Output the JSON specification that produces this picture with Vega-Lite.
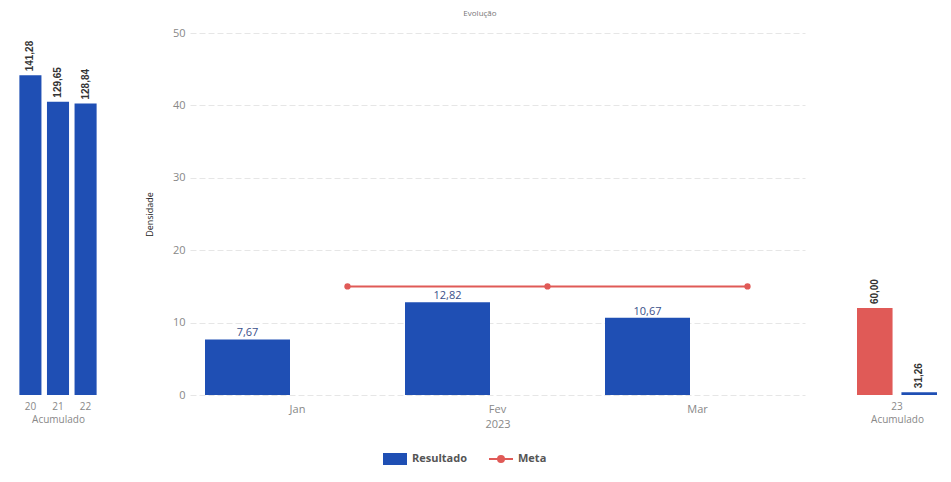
{
  "$schema": "https://vega.github.io/schema/vega-lite/v6.json",
  "background": "white",
  "padding": {"left": 18, "top": 10, "right": 0, "bottom": 5},
  "title": {"text": "Evolução", "fontSize": 8, "fontWeight": "normal", "color": "#777", "font": "Open Sans", "anchor": "middle", "offset": 9},
  "datasets": {
    "historico": [
      {"ano": "20", "valor": 141.28},
      {"ano": "21", "valor": 129.65},
      {"ano": "22", "valor": 128.84}
    ],
    "mensal": [
      {"mes": "Jan", "serie": "Resultado", "valor": 7.67},
      {"mes": "Fev", "serie": "Resultado", "valor": 12.82},
      {"mes": "Mar", "serie": "Resultado", "valor": 10.67}
    ],
    "meta": [
      {"mes": "Jan", "serie": "Meta", "valor": 15},
      {"mes": "Fev", "serie": "Meta", "valor": 15},
      {"mes": "Mar", "serie": "Meta", "valor": 15}
    ],
    "acumulado": [
      {"ano": "23", "serie": "Meta", "valor": 60.0},
      {"ano": "23", "serie": "Resultado", "valor": 31.26}
    ]
  },
  "spacing": 47,
  "hconcat": [
    {
      "spacing": 47,
      "hconcat": [
        {
          "width": 80,
          "height": 362,
          "data": {"name": "historico"},
          "encoding": {
            "x": {"field": "ano", "type": "nominal", "title": "Acumulado",
                  "scale": {"paddingInner": 0.2, "paddingOuter": 0.05},
                  "axis": {"labelAngle": 0, "labelFontSize": 10, "titleFontSize": 10, "labelPadding": 6, "titlePadding": 3}},
            "y": {"field": "valor", "type": "quantitative", "scale": {"domain": [0, 160]}, "axis": null}
          },
          "layer": [
            {"mark": {"type": "bar", "color": "#1f4fb4"}},
            {"mark": {"type": "text", "angle": 270, "align": "left", "baseline": "middle", "dx": 4, "fontSize": 10, "fontWeight": "bold", "color": "#333", "font": "Liberation Sans"},
             "encoding": {"text": {"field": "valor", "type": "quantitative", "format": ".2f"}}}
          ]
        },
        {
          "width": 615,
          "height": 362,
          "encoding": {
            "x": {"field": "mes", "type": "ordinal", "sort": ["Jan", "Fev", "Mar"], "title": "2023",
                  "scale": {"paddingInner": 0, "paddingOuter": 0.0375},
                  "axis": {"labelAngle": 0, "labelFontSize": 11, "titleFontSize": 11, "labelPadding": 8, "titlePadding": 4}},
            "y": {"field": "valor", "type": "quantitative", "scale": {"domain": [0, 50]}, "title": "Densidade",
                  "axis": {"values": [0, 10, 20, 30, 40, 50], "grid": true, "gridColor": "#e6e6e6", "gridDash": [6, 3], "labelFontSize": 11, "labelPadding": 5, "titleFontSize": 9, "titleColor": "#222", "titlePadding": 18}}
          },
          "layer": [
            {
              "data": {"name": "mensal"},
              "mark": {"type": "bar", "width": 85, "xOffset": -50},
              "encoding": {
                "fill": {"field": "serie", "type": "nominal", "title": null,
                         "scale": {"domain": ["Resultado"], "range": ["#1f4fb4"]},
                         "legend": {"orient": "none", "legendX": 364, "legendY": 413, "symbolType": "M-1,-0.5H1V0.5H-1Z", "symbolSize": 576, "labelFontWeight": "bold", "labelColor": "#555", "labelFontSize": 11}}
              }
            },
            {
              "data": {"name": "mensal"},
              "mark": {"type": "text", "xOffset": -50, "baseline": "bottom", "dy": -1, "fontSize": 11, "color": "#3a4f8a", "font": "Open Sans"},
              "encoding": {"text": {"field": "valor", "type": "quantitative", "format": ".2f"}}
            },
            {
              "data": {"name": "meta"},
              "mark": {"type": "line", "xOffset": 50, "strokeWidth": 2},
              "encoding": {
                "stroke": {"field": "serie", "type": "nominal", "title": null,
                           "scale": {"domain": ["Meta"], "range": ["#e05a57"]},
                           "legend": {"orient": "none", "legendX": 470, "legendY": 413, "symbolType": "M-1,0H1M0.25,0A0.25,0.25,0,1,1,-0.25,0A0.25,0.25,0,1,1,0.25,0", "symbolSize": 576, "symbolStrokeWidth": 2, "symbolFillColor": "#e05a57", "labelFontWeight": "bold", "labelColor": "#555", "labelFontSize": 11}}
              }
            },
            {
              "data": {"name": "meta"},
              "mark": {"type": "point", "xOffset": 50, "filled": true, "size": 40, "color": "#e05a57", "opacity": 1}
            }
          ]
        }
      ]
    },
    {
      "width": 90,
      "height": 362,
      "data": {"name": "acumulado"},
      "encoding": {
        "x": {"field": "ano", "type": "nominal", "title": "Acumulado",
              "scale": {"paddingOuter": 0.05},
              "axis": {"labelAngle": 0, "labelFontSize": 10, "titleFontSize": 10, "labelPadding": 6, "titlePadding": 3}},
        "xOffset": {"field": "serie", "type": "nominal", "sort": ["Meta", "Resultado"], "scale": {"paddingInner": 0.2}}
      },
      "layer": [
        {
          "transform": [{"filter": "datum.serie === 'Meta'"}],
          "encoding": {"y": {"field": "valor", "type": "quantitative", "scale": {"domain": [0, 250]}, "axis": null}},
          "layer": [
            {"mark": {"type": "bar", "color": "#e05a57"}},
            {"mark": {"type": "text", "angle": 270, "align": "left", "baseline": "middle", "dx": 4, "fontSize": 10, "fontWeight": "bold", "color": "#333", "font": "Liberation Sans"},
             "encoding": {"text": {"field": "valor", "type": "quantitative", "format": ".2f"}}}
          ]
        },
        {
          "transform": [{"filter": "datum.serie === 'Resultado'"}],
          "encoding": {"y": {"field": "valor", "type": "quantitative", "scale": {"domain": [0, 4000]}, "axis": null}},
          "layer": [
            {"mark": {"type": "bar", "color": "#1f4fb4"}},
            {"mark": {"type": "text", "angle": 270, "align": "left", "baseline": "middle", "dx": 4, "fontSize": 10, "fontWeight": "bold", "color": "#333", "font": "Liberation Sans"},
             "encoding": {"text": {"field": "valor", "type": "quantitative", "format": ".2f"}}}
          ]
        }
      ],
      "resolve": {"scale": {"y": "independent"}}
    }
  ],
  "config": {
    "locale": {"number": {"decimal": ",", "thousands": ".", "grouping": [3], "currency": ["R$ ", ""]}},
    "view": {"stroke": null},
    "font": "Open Sans",
    "axis": {"labelFont": "Open Sans", "titleFont": "Open Sans", "labelColor": "#888", "titleColor": "#888", "titleFontWeight": "normal", "domain": false, "ticks": false, "grid": false},
    "legend": {"labelFont": "Open Sans"}
  }
}
